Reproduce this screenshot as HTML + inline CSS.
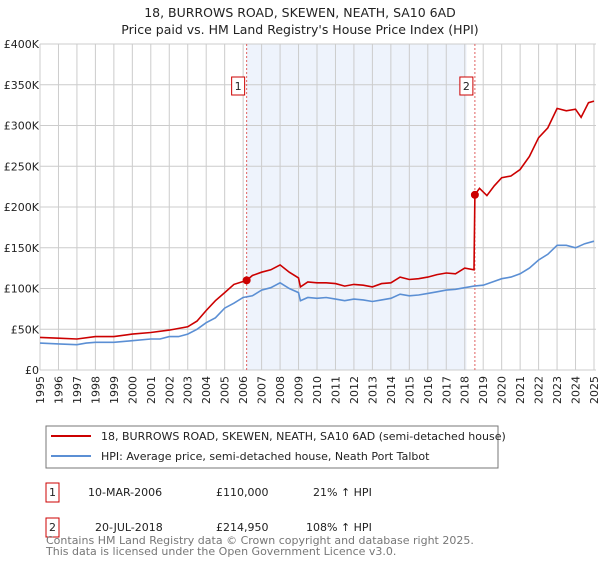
<!DOCTYPE html>
<html><head><meta charset="utf-8"><style>
body{margin:0;background:#fff;font-family:"DejaVu Sans","Liberation Sans",sans-serif;}
svg text{font-family:"DejaVu Sans","Liberation Sans",sans-serif;}
</style></head><body>
<svg id="c" width="600" height="560" xmlns="http://www.w3.org/2000/svg">
<text x="300" y="17" text-anchor="middle" font-size="12.5" fill="#222">18, BURROWS ROAD, SKEWEN, NEATH, SA10 6AD</text>
<text x="300" y="34" text-anchor="middle" font-size="12.5" fill="#222">Price paid vs. HM Land Registry's House Price Index (HPI)</text>
<g id="grid"></g><g id="series"></g><g id="axes"></g>
<rect x="46" y="426" width="452" height="42" fill="#fff" stroke="#777"/>
<line x1="51" y1="436" x2="91" y2="436" stroke="#cc0000" stroke-width="2"/>
<text x="101" y="440" font-size="11" fill="#222">18, BURROWS ROAD, SKEWEN, NEATH, SA10 6AD (semi-detached house)</text>
<line x1="51" y1="456" x2="91" y2="456" stroke="#5b8fd4" stroke-width="2"/>
<text x="101" y="460" font-size="11" fill="#222">HPI: Average price, semi-detached house, Neath Port Talbot</text>
<g font-size="11" fill="#222">
<rect x="46" y="483" width="13" height="19" fill="none" stroke="#cc0000"/>
<text x="52.5" y="496" text-anchor="middle">1</text>
<text x="88" y="496">10-MAR-2006</text>
<text x="216" y="496">£110,000</text>
<text x="313" y="496">21% ↑ HPI</text>
<rect x="46" y="518" width="13" height="19" fill="none" stroke="#cc0000"/>
<text x="52.5" y="531" text-anchor="middle">2</text>
<text x="95" y="531">20-JUL-2018</text>
<text x="216" y="531">£214,950</text>
<text x="306" y="531">108% ↑ HPI</text>
</g>
<text x="46" y="544" font-size="11" fill="#777">Contains HM Land Registry data © Crown copyright and database right 2025.</text>
<text x="46" y="555" font-size="11" fill="#777">This data is licensed under the Open Government Licence v3.0.</text>
</svg>
<script>
const hpiYears=[1995,1996,1997,1997.5,1998,1999,2000,2001,2001.5,2002,2002.5,2003,2003.5,2004,2004.5,2005,2005.5,2006,2006.5,2007,2007.5,2008,2008.5,2009,2009.1,2009.5,2010,2010.5,2011,2011.5,2012,2012.5,2013,2013.5,2014,2014.5,2015,2015.5,2016,2016.5,2017,2017.5,2018,2018.5,2019,2019.5,2020,2020.5,2021,2021.5,2022,2022.5,2023,2023.5,2024,2024.5,2025];
const hpiValues=[33,32,31,33,34,34,36,38,38,41,41,44,50,58,64,76,82,89,91,98,101,107,100,95,85,89,88,89,87,85,87,86,84,86,88,93,91,92,94,96,98,99,101,103,104,108,112,114,118,125,135,142,153,153,150,155,158];
const propYears=[1995,1996,1997,1998,1999,2000,2001,2002,2003,2003.5,2004,2004.5,2005,2005.5,2006.19,2006.5,2007,2007.5,2008,2008.5,2009,2009.1,2009.5,2010,2010.5,2011,2011.5,2012,2012.5,2013,2013.5,2014,2014.5,2015,2015.5,2016,2016.5,2017,2017.5,2018,2018.5,2018.55,2018.8,2019.2,2019.6,2020,2020.5,2021,2021.5,2022,2022.5,2023,2023.5,2024,2024.3,2024.7,2025];
const propValues=[40,39,38,41,41,44,46,49,53,60,73,85,95,105,110,116,120,123,129,120,113,102,108,107,107,106,103,105,104,102,106,107,114,111,112,114,117,119,118,125,123,214.95,223,214,226,236,238,246,262,285,297,321,318,320,310,328,330];
const saleYears=[2006.19,2018.55];
const saleValues=[110,214.95];
const saleLabels=["1","2"];
const yTicks=[0,50,100,150,200,250,300,350,400];
const yTickLabels=["£0","£50K","£100K","£150K","£200K","£250K","£300K","£350K","£400K"];
const xTicks=[1995,1996,1997,1998,1999,2000,2001,2002,2003,2004,2005,2006,2007,2008,2009,2010,2011,2012,2013,2014,2015,2016,2017,2018,2019,2020,2021,2022,2023,2024,2025];
const shadeRange=[2006.19,2018.1];

const X0=40,X1=594,Y0=370,Y1=44;
const xs=y=>X0+(y-1995)/30*(X1-X0);
const ys=v=>Y0-v/400*(Y0-Y1);
const NS="http://www.w3.org/2000/svg";
function mk(t,a,p){const e=document.createElementNS(NS,t);for(const k in a)e.setAttribute(k,a[k]);p.appendChild(e);return e;}
const grid=document.getElementById('grid'),ser=document.getElementById('series'),ax=document.getElementById('axes');
const sh=mk('rect',{x:xs(shadeRange[0]),y:Y1,width:xs(shadeRange[1])-xs(shadeRange[0]),height:Y0-Y1,fill:'#eef3fc'},grid);


xTicks.forEach(t=>{
 const l=mk('line',{x1:xs(t),x2:xs(t),y1:Y1,y2:Y0,stroke:'#ccc'},grid);
 
 
 const px=xs(t)+4,py=Y0+6;
 const tx=mk('text',{x:px,y:py,'font-size':11,fill:'#222','text-anchor':'end',transform:'rotate(-90 '+px+' '+py+')'},ax);
 tx.textContent=t;
 
 
});
yTicks.forEach((t,i)=>{
 const l=mk('line',{x1:X0,x2:X1+2,y1:ys(t),y2:ys(t),stroke:'#ccc'},grid);
 
 
 const tx=mk('text',{x:X0-1,y:ys(t)+4,'font-size':11,fill:'#222','text-anchor':'end'},ax);
 tx.textContent=yTickLabels[i];
 
 
});
saleYears.forEach((s,i)=>{
 const l=mk('line',{x1:xs(s),x2:xs(s),y1:Y1,y2:Y0,stroke:'#e06060','stroke-dasharray':'2,2'},grid);
 
 
});
function path(xa,va,c,name){
 const d=xa.map((x,i)=>(i?'L':'M')+xs(x).toFixed(1)+','+ys(va[i]).toFixed(1)).join('');
 const p=mk('path',{d,fill:'none',stroke:c,'stroke-width':1.6},ser);
 
 
}
path(hpiYears,hpiValues,'#5b8fd4','hpi-line');
path(propYears,propValues,'#cc0000','property-price-line');
saleYears.forEach((s,i)=>{
 const c=mk('circle',{cx:xs(s),cy:ys(saleValues[i]),r:4,fill:'#cc0000'},ser);
 
 
 const r=mk('rect',{x:xs(s)-15,y:77,width:13,height:18,fill:'#fff',stroke:'#cc0000'},ser);
 
 
 const t=mk('text',{x:xs(s)-8.5,y:90,'font-size':11,fill:'#222','text-anchor':'middle'},ser);
 t.textContent=saleLabels[i];
 
 
});
</script>
</body></html>
